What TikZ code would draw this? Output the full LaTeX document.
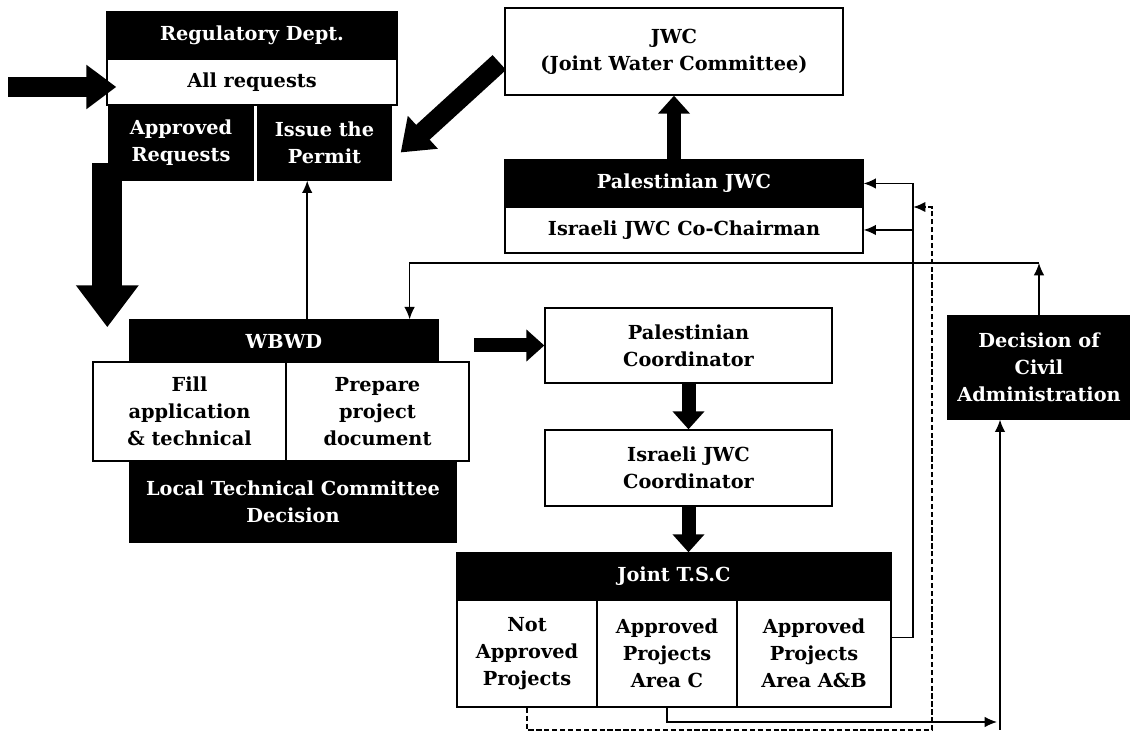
\documentclass[tikz,border=0pt]{standalone}
\usepackage{fontspec}
\setmainfont{DejaVu Serif}
\usetikzlibrary{arrows.meta,calc}
\tikzset{>={Latex[length=7pt,width=6pt]}}
\tikzset{
  darkbox/.style = {draw, fill=black, text=white, align=center, inner sep=0pt, line width=0.8pt},
  lightbox/.style = {draw, fill=white, text=black, align=center, inner sep=0pt, line width=0.8pt},
  link/.style = {->, line width=0.8pt},
  dashlink/.style = {->, line width=1.4pt, dash pattern=on 3pt off 1.5pt},
  hugearrow/.style = {line width=0.6cm, -{Triangle[length=0.84cm,width=1.2cm]}},
  bigarrow/.style = {line width=0.4cm, -{Triangle[length=0.6cm,width=0.85cm]}},
  midarrow/.style = {line width=0.28cm, -{Triangle[length=0.36cm,width=0.62cm]}}
}

\begin{document}
\begin{tikzpicture}[x=0.02cm,y=-0.02cm,font=\bfseries\fontsize{11}{15.5}\selectfont]
  \useasboundingbox (0,0) rectangle (1130,732);
  % regulatory dept.
  \node[darkbox,minimum width=5.8cm,minimum height=0.94cm] (reg) at (252,35.5) {Regulatory Dept.};
  \node[lightbox,minimum width=5.8cm,minimum height=0.92cm] (allreq) at (252,82) {All requests};
  \node[darkbox,minimum width=2.88cm,minimum height=1.5cm] (apprreq) at (181,142.5) {Approved\\Requests};
  \node[darkbox,minimum width=2.66cm,minimum height=1.5cm] (permit) at (324.5,142.5) {Issue the\\Permit};
  % wbwd
  \node[darkbox,minimum width=6.16cm,minimum height=0.84cm] (wbwd) at (284,341) {WBWD};
  \node[lightbox,minimum width=3.86cm,minimum height=1.98cm] (fill) at (189.5,411.5) {Fill\\application\\\& technical};
  \node[lightbox,minimum width=3.66cm,minimum height=1.98cm] (prep) at (377.5,411.5) {Prepare\\project\\document};
  \node[darkbox,minimum width=6.52cm,minimum height=1.62cm] (ltc) at (293,501.5) {Local Technical Committee\\Decision};
  % jwc
  \node[lightbox,minimum width=6.76cm,minimum height=1.74cm] (jwc) at (674,51.5) {JWC\\(Joint Water Committee)};
  \node[darkbox,minimum width=7.16cm,minimum height=0.94cm] (paljwc) at (684,183.5) {Palestinian JWC};
  \node[lightbox,minimum width=7.16cm,minimum height=0.92cm] (cochair) at (684,230) {Israeli JWC Co-Chairman};
  % coordinators
  \node[lightbox,minimum width=5.74cm,minimum height=1.5cm] (palcoord) at (688.5,345.5) {Palestinian\\Coordinator};
  \node[lightbox,minimum width=5.74cm,minimum height=1.52cm] (isrcoord) at (688.5,468) {Israeli JWC\\Coordinator};
  % joint t.s.c
  \node[darkbox,minimum width=8.68cm,minimum height=0.94cm] (tsc) at (674,576.5) {Joint T.S.C};
  \node[lightbox,minimum width=2.8cm,minimum height=2.14cm] (notappr) at (527,653.5) {Not\\Approved\\Projects};
  \node[lightbox,minimum width=2.8cm,minimum height=2.14cm] (areac) at (667,653.5) {Approved\\Projects\\Area C};
  \node[lightbox,minimum width=3.08cm,minimum height=2.14cm] (areaab) at (814,653.5) {Approved\\Projects\\Area A\&B};
  % civil administration
  \node[darkbox,minimum width=3.64cm,minimum height=2.06cm] (decision) at (1039,367.5) {Decision of\\Civil\\Administration};

  % thick arrows
  \coordinate (inflow) at (8,87);
  \draw[bigarrow] (inflow) -- ($(inflow -| allreq.west)+(10,0)$);
  \draw[bigarrow] ($(jwc.west)+(-5,11)$) -- ($(permit.east)+(9,10)$);
  \draw[hugearrow] ($(apprreq.south west)+(-1,-18)$) -- ($(apprreq.south west |- wbwd.north)+(-1,8)$);
  \draw[midarrow] ($(palcoord.west)+(-70,0)$) -- (palcoord.west);
  \draw[midarrow] (palcoord.south) -- (isrcoord.north);
  \draw[midarrow] (isrcoord.south) -- (isrcoord.south |- tsc.north);
  \draw[midarrow] (paljwc.north -| jwc.south) -- (jwc.south);

  % thin connectors
  \draw[link] ($(wbwd.north west)!0.575!(wbwd.north east)$) coordinate (wup) -- (wup |- permit.south);
  \coordinate (turn) at (1039,263);
  \draw[link] (decision.north) -- (turn);
  \draw[link] (turn) -| ($(wbwd.north west)!0.906!(wbwd.north east)$);
  \coordinate (solidrail) at (913,183.5);
  \coordinate (dashrail) at (932,207);
  \coordinate (dashfoot) at (932,730);
  \coordinate (cfoot) at (1000,722);
  \draw[link] ($(areaab.east)+(0,-16)$) -| (solidrail) -- (paljwc.east);
  \draw[link] (solidrail |- cochair.east) -- (cochair.east);
  \draw[dashlink] (notappr.south) |- (dashfoot) -- (dashrail) -- (dashrail -| solidrail);
  \draw[link] (areac.south) |- ($(cfoot)+(-3,0)$);
  \draw[link] ($(cfoot)+(0,8)$) -- (cfoot |- decision.south);
\end{tikzpicture}
\end{document}
